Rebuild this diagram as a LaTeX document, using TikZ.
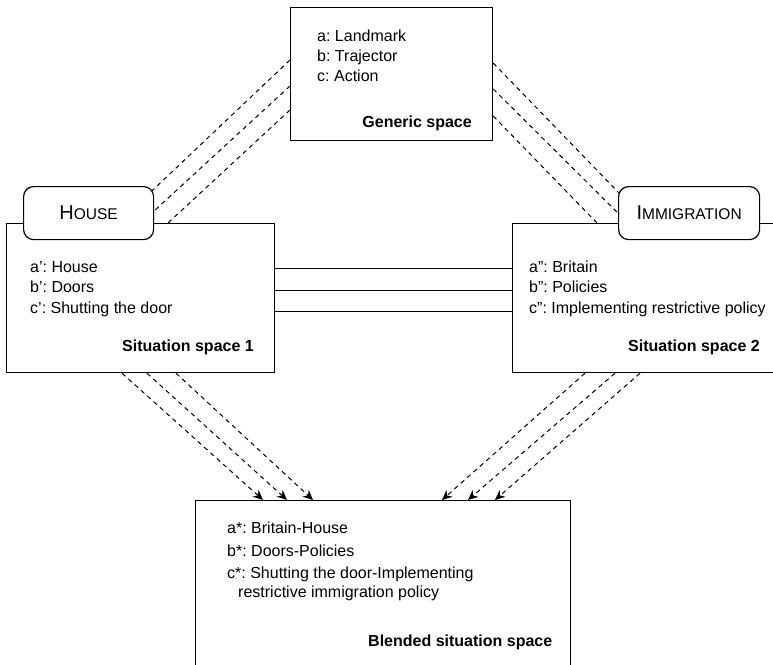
\documentclass[tikz,border=0pt]{standalone}
\usepackage{fontspec}
\setmainfont{Liberation Sans}
\usetikzlibrary{calc,arrows.meta}
\frenchspacing

% word set in large initial + smaller capitals
\newcommand\capsword[2]{{\fontsize{20}{20}\selectfont #1}{\fontsize{15.5}{20}\selectfont #2}}

\begin{document}
\begin{tikzpicture}[x=1pt,y=-1pt,
  spacebox/.style={draw, line width=1.2pt, fill=white, rectangle, inner sep=0pt, anchor=north west},
  tagbox/.style={draw, line width=1.2pt, fill=white, rectangle, rounded corners=10pt,
    inner sep=0pt, minimum height=53pt, anchor=north west},
  entry/.style={font=\fontsize{16}{20.5}\selectfont, anchor=base west, inner sep=0pt},
  spacename/.style={font=\fontsize{16}{20.5}\selectfont\bfseries, anchor=base east, inner sep=0pt},
  mapping/.style={dash pattern=on 4.5pt off 4pt, line width=1pt},
  projection/.style={mapping, -{Stealth[length=10pt,width=9pt]}},
  counterpart/.style={line width=1pt}
]
\clip (0,0) rectangle (773,664);
\fill[white] (0,0) rectangle (773,664);

% the four mental spaces
\node[spacebox, minimum width=202pt, minimum height=133pt] (gen) at (290,7) {};
\node[spacebox, minimum width=268pt, minimum height=149pt] (sa) at (6,223) {};
\node[spacebox, minimum width=290pt, minimum height=149pt] (sb) at (512,223) {};
\node[spacebox, minimum width=375pt, minimum height=200pt] (bl) at (195,500) {};

% generic space to the input spaces
\draw[mapping] ([yshift=-53pt]gen.north west) -- ([xshift=112pt]sa.north west);
\draw[mapping] ([yshift=-79pt]gen.north west) -- ([xshift=135pt]sa.north west);
\draw[mapping] ([yshift=-103pt]gen.north west) -- ([xshift=162pt]sa.north west);
\draw[mapping] ([yshift=-56pt]gen.north east) -- ([xshift=136pt]sb.north west);
\draw[mapping] ([yshift=-82pt]gen.north east) -- ([xshift=116pt]sb.north west);
\draw[mapping] ([yshift=-109pt]gen.north east) -- ([xshift=85pt]sb.north west);

% cross-space counterparts
\draw[counterpart] ([yshift=-45pt]sa.north east) -- ([yshift=-45pt]sb.north west);
\draw[counterpart] ([yshift=-67pt]sa.north east) -- ([yshift=-67pt]sb.north west);
\draw[counterpart] ([yshift=-88pt]sa.north east) -- ([yshift=-88pt]sb.north west);

% projections into the blend
\draw[projection] ([xshift=116pt]sa.south west) -- ([xshift=68pt]bl.north west);
\draw[projection] ([xshift=141pt]sa.south west) -- ([xshift=92pt]bl.north west);
\draw[projection] ([xshift=170pt]sa.south west) -- ([xshift=118pt]bl.north west);
\draw[projection] ([xshift=73pt]sb.south west) -- ([xshift=247pt]bl.north west);
\draw[projection] ([xshift=103pt]sb.south west) -- ([xshift=273pt]bl.north west);
\draw[projection] ([xshift=128pt]sb.south west) -- ([xshift=300pt]bl.north west);

% domain labels
\node[tagbox, minimum width=130pt] (house) at (23,186) {};
\node (houselbl) at (house.center) {\capsword{H}{OUSE}};
\node[tagbox, minimum width=141pt] (immig) at (618,186) {};
\node (immiglbl) at (immig.center) {\capsword{I}{MMIGRATION}};

% generic space contents
\node[entry] (ga) at (317,41.5) {a: Landmark};
\node[entry] (gb) at (317,61.5) {b: Trajector};
\node[entry] (gc) at (317,81.5) {c: Action};
\node[spacename] (gn) at (472,127) {Generic space};

% situation space 1
\node[entry] (sa1) at (30,272) {a’: House};
\node[entry] (sa2) at (30,292.5) {b’: Doors};
\node[entry] (sa3) at (30,313) {c’: Shutting the door};
\node[spacename] (san) at (254,351) {Situation space 1};

% situation space 2
\node[entry] (sb1) at (529,272) {a”: Britain};
\node[entry] (sb2) at (529,292.5) {b”: Policies};
\node[entry] (sb3) at (529,313) {c”: Implementing restrictive policy};
\node[spacename] (sbn) at (760,351) {Situation space 2};

% blended space
\node[entry] (bl1) at (227,533) {a*: Britain-House};
\node[entry] (bl2) at (227,556) {b*: Doors-Policies};
\node[entry] (bl3) at (227,578) {c*: Shutting the door-Implementing};
\node[entry] (bl4) at (238,597) {restrictive immigration policy};
\node[entry, font=\fontsize{16}{20.5}\selectfont\bfseries] (bln) at (368,646.5) {Blended situation space};
\end{tikzpicture}
\end{document}
